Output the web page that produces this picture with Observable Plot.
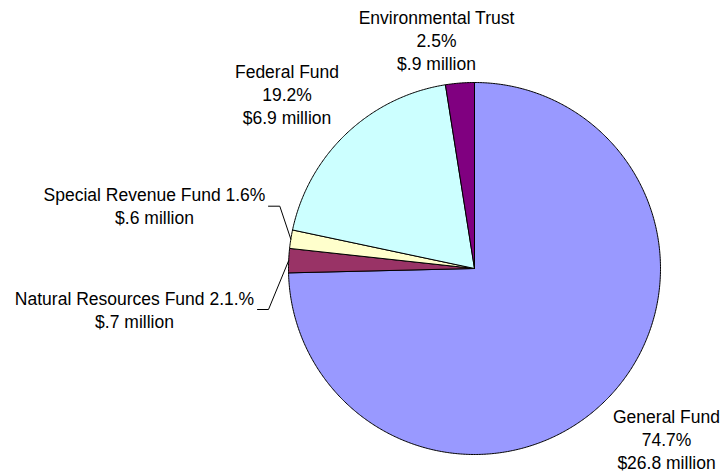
<!DOCTYPE html>
<html>
<head>
<meta charset="utf-8">
<script src="https://cdn.jsdelivr.net/npm/d3@7"></script>
<script src="https://cdn.jsdelivr.net/npm/@observablehq/plot@0.6"></script>
<style>
  html, body { margin: 0; padding: 0; background: #ffffff; }
  #chart svg { display: block; }
</style>
</head>
<body>
<div id="chart"></div>
<script>
// ---- Data ----
const names = ["General Fund", "Natural Resources Fund", "Special Revenue Fund", "Federal Fund", "Environmental Trust"];
const percents = [74.7, 2.1, 1.6, 19.2, 2.5];
const pctLabels = ["74.7%", "2.1.%", "1.6%", "19.2%", "2.5%"];
const amounts = ["$26.8 million", "$.7 million", "$.6 million", "$6.9 million", "$.9 million"];

// ---- Styles / layout ----
const colors = ["#9999FF", "#993366", "#FFFFCC", "#CCFFFF", "#800080"];
const W = 725, H = 472;
const cx = 474, cy = 268, R = 186;           // pie centre and radius (pixels)
const inlinePct = [false, true, true, false, false]; // percent on first line?
const labelPx = [[666, 438], [134, 309], [154, 205], [286.5, 93], [436, 39]]; // label block centres
const leaderPx = [null, [[257, 309], [268, 309]], [[268, 205.7], [279.3, 205.7]], null, null];

const toX = px => (px - cx) / R;
const toY = py => (cy - py) / R;

// ---- Slices ----
const arcs = d3.pie().sort(null).value(d => d)(percents);
const polys = [];
arcs.forEach((a, i) => {
  const n = Math.max(2, Math.ceil((a.endAngle - a.startAngle) / (Math.PI / 360)));
  polys.push({name: names[i], x: 0, y: 0});
  for (let k = 0; k <= n; k++) {
    const t = a.startAngle + (a.endAngle - a.startAngle) * k / n;
    polys.push({name: names[i], x: Math.sin(t), y: Math.cos(t)});
  }
  polys.push({name: names[i], x: 0, y: 0});
});

// ---- Labels ----
const labels = names.map((nm, i) => {
  const pct = pctLabels[i];
  const text = inlinePct[i] ? `${nm} ${pct}\n${amounts[i]}` : `${nm}\n${pct}\n${amounts[i]}`;
  return {text, x: toX(labelPx[i][0]), y: toY(labelPx[i][1])};
});

// ---- Leader lines ----
const leaders = [];
arcs.forEach((a, i) => {
  if (!leaderPx[i]) return;
  leaderPx[i].forEach(([px, py]) => leaders.push({name: names[i], x: toX(px), y: toY(py)}));
  const m = (a.startAngle + a.endAngle) / 2;
  leaders.push({name: names[i], x: Math.sin(m), y: Math.cos(m)});
});

const chart = Plot.plot({
  width: W,
  height: H,
  margin: 0,
  x: {domain: [toX(0), toX(W)], range: [0, W], axis: null},
  y: {domain: [toY(H), toY(0)], range: [H, 0], axis: null},
  color: {domain: names, range: colors},
  style: {fontFamily: "'Liberation Sans', Arial, sans-serif", background: "#ffffff", color: "black"},
  marks: [
    Plot.line(polys, {x: "x", y: "y", z: "name", fill: "name", stroke: "black", strokeWidth: 1, curve: "linear", strokeLinejoin: "miter"}),
    Plot.line(leaders, {x: "x", y: "y", z: "name", stroke: "black", strokeWidth: 1, curve: "linear"}),
    Plot.text(labels, {x: "x", y: "y", text: "text", fontSize: 17.5, lineHeight: 1.3, fill: "black", textAnchor: "middle"})
  ]
});
document.getElementById("chart").appendChild(chart);
</script>
</body>
</html>
